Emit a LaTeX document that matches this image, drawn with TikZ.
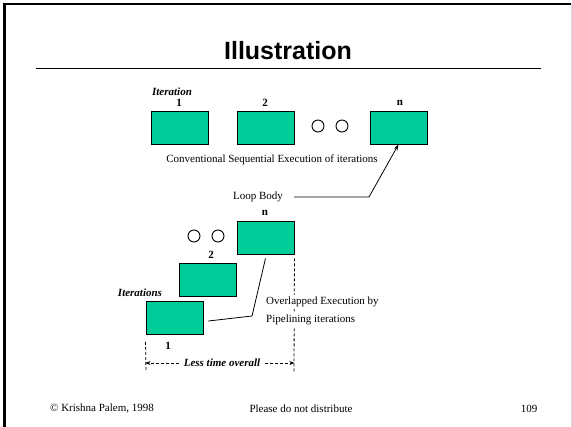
\documentclass[tikz,border=0pt]{standalone}
\usepackage{fontspec}
\setmainfont{Liberation Serif}
\newfontfamily\titlefont{Liberation Sans}
\usetikzlibrary{arrows.meta}
\definecolor{boxgreen}{RGB}{0,204,153}
\definecolor{framegrey}{RGB}{215,215,215}
\tikzset{
  body/.style={draw=black, line width=0.9pt, fill=boxgreen, minimum width=57pt, minimum height=33pt, inner sep=0pt},
  ring/.style={circle, draw=black, line width=0.9pt, minimum size=12pt, inner sep=0pt},
  txt/.style={font=\fontsize{11}{13}\selectfont, inner sep=0pt},
  btxt/.style={font=\fontsize{11}{13}\selectfont\bfseries, inner sep=0pt},
  bitxt/.style={font=\fontsize{11}{13}\selectfont\bfseries\itshape, inner sep=0pt},
  conn/.style={draw=black, line width=0.8pt},
  dimline/.style={draw=black, line width=0.8pt, dash pattern=on 3pt off 2pt},
}
\begin{document}
\begin{tikzpicture}[x=1pt,y=-1pt]
\useasboundingbox (0,0) rectangle (572,427);
\fill[white] (0,0) rectangle (572,427);
% frame
\draw[framegrey, line width=0.8pt] (571,4) -- (571,427);
\draw[black, line width=2.4pt] (4.5,427) -- (4.5,4.2) -- (571,4.2);
% title and rule
\node[font=\titlefont\bfseries\fontsize{25}{28}\selectfont, inner sep=0pt, anchor=base] (title) at (288,60) {Illustration};
\coordinate (ruleL) at (36,68.5);
\coordinate (ruleR) at (541,68.5);
\draw[line width=1.5pt] (ruleL) -- (ruleR);
% top row
\node[bitxt] (iter) at (172,92) {Iteration};
\node[body] (b1) at (179.5,127.5) {};
\node[body] (b2) at (265.5,127.5) {};
\node[body] (bn) at (398.5,127.5) {};
\node[btxt] (t1) at (179,103) {1};
\node[btxt] (t2) at (265,103) {2};
\node[btxt] (tn) at (400,103) {n};
\node[ring] (c1) at (318,126) {};
\node[ring] (c2) at (342,126) {};
\node[txt] (conv) at (272,160) {Conventional Sequential Execution of iterations};
% loop body
\node[txt] (loop) at (258,197) {Loop Body};
\coordinate (lbB) at (369,197);
\draw[conn, -{Stealth[length=6pt,width=4pt]}] ([xshift=11pt]loop.east) -- (lbB) -- (bn.south);
% pipelined
\node[body] (ln) at (265.5,237.5) {};
\node[body] (l2) at (208,280) {};
\node[body] (l1) at (174.5,318) {};
\node[btxt] (un) at (265,213) {n};
\node[btxt] (u2) at (211,255) {2};
\node[btxt] (u1) at (168,346) {1};
\node[ring] (d1) at (194,236) {};
\node[ring] (d2) at (218,236) {};
\node[bitxt] (iters) at (140,293) {Iterations};
% dashed markers
\coordinate (lbot) at (146,372);
\coordinate (rbot) at (294,372);
\draw[dimline] ([yshift=-7pt]l1.south west) -- (lbot);
\draw[dimline] ([yshift=-4pt]ln.south east) -- (rbot);
% overlapped text
\node[txt, fill=white, anchor=west, inner ysep=2pt] (ov1) at (266,302) {Overlapped Execution by};
\node[txt, fill=white, anchor=west, inner ysep=2pt] (ov2) at (266,320) {Pipelining iterations};
\coordinate (kink) at (252,316);
\draw[conn] ([shift={(5,3)}]l1.east) -- (kink) -- ([yshift=-4pt]ln.south);
% less time overall
\node[bitxt] (less) at (222,363) {Less time overall};
\draw[dimline, -{Stealth[length=5pt,width=4pt]}] ([xshift=-5pt]less.west) -- (l1.west |- less);
\draw[dimline, -{Stealth[length=5pt,width=4pt]}] ([xshift=5pt]less.east) -- (ln.east |- less);
% footer
\node[txt] (copy) at (102,409) {© Krishna Palem, 1998};
\node[txt] (dist) at (301,409) {Please do not distribute};
\node[txt] (page) at (529,409) {109};
\end{tikzpicture}
\end{document}
